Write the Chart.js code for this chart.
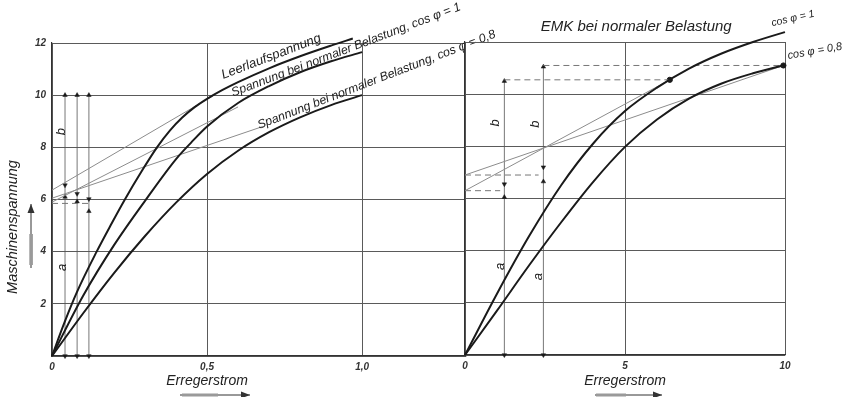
<!DOCTYPE html>
<html>
<head>
<meta charset="utf-8">
<script src="https://cdn.jsdelivr.net/npm/chart.js@4.4.1/dist/chart.umd.min.js"></script>
<style>
  html, body { margin:0; padding:0; background:#fff; }
  #wrap { position:relative; width:846px; height:397px; overflow:hidden; background:#fff; }
  canvas { position:absolute; top:0; }
  #c1 { left:0; }
  #c2 { left:420px; }
</style>
</head>
<body>
<div id="wrap">
  <canvas id="c1" width="500" height="397"></canvas>
  <canvas id="c2" width="426" height="397"></canvas>
</div>
<script>
// ---------- Left diagram: Maschinenspannung vs Erregerstrom ----------
const leftXTicks = [0, 0.5, 1.0];
const leftYTicks = [0, 2, 4, 6, 8, 10, 12];

const leerX = [0, 0.04, 0.08, 0.144, 0.19, 0.235, 0.29, 0.338, 0.38, 0.42, 0.46, 0.5, 0.55, 0.6, 0.7, 0.8, 0.9, 0.97];
const leerY = [0, 1.28, 2.44, 4.0, 5.03, 6.0, 7.1, 7.99, 8.64, 9.14, 9.54, 9.86, 10.2, 10.5, 11.03, 11.49, 11.9, 12.17];

const cos1LX = [0, 0.1, 0.2, 0.3, 0.4, 0.45, 0.5, 0.6, 0.7, 0.8, 0.9, 1.0];
const cos1LY = [0, 2.3, 4.25, 5.95, 7.55, 8.2, 8.8, 9.7, 10.35, 10.88, 11.3, 11.65];

const cos08LX = [0, 0.1, 0.2, 0.3, 0.4, 0.5, 0.6, 0.7, 0.8, 0.9, 1.0];
const cos08LY = [0, 1.63, 3.18, 4.6, 5.88, 6.98, 7.87, 8.58, 9.15, 9.62, 10.0];

const lineAX = [0, 0.52], lineAY = [6.36, 9.98];
const lineBX = [0, 0.6],  lineBY = [5.9, 9.55];
const lineCX = [0, 0.68], lineCY = [6.05, 8.8];
const dashLX = [0, 0.12], dashLY = [5.85, 5.85];

const dimLX = [0.042, 0.081, 0.119];
const dimLY = [[0, 6.1, 6.55, 10], [0, 5.92, 6.22, 10], [0, 5.55, 6.02, 10]];

// ---------- Right diagram: EMK bei normaler Belastung ----------
const rightXTicks = [0, 5, 10];
const cos1RX = [0, 1, 2, 3, 4, 5, 6, 7, 8, 9, 10, 10.4];
const cos1RY = [0, 2.35, 4.55, 6.5, 8.1, 9.35, 10.25, 10.98, 11.55, 12.0, 12.38, 12.52];

const cos08RX = [0, 1, 2, 3, 4, 5, 6, 7, 8, 9, 10, 10.6];
const cos08RY = [0, 1.7, 3.43, 5.08, 6.63, 7.98, 9.03, 9.83, 10.4, 10.8, 11.12, 11.3];

const lineEX = [0, 6.4],  lineEY = [6.3, 10.55];
const lineDX = [0, 9.95], lineDY = [6.9, 11.1];
const dashR1X = [0, 1.1],     dashR1Y = [6.3, 6.3];
const dashR2X = [0, 2.3],     dashR2Y = [6.9, 6.9];
const dashR3X = [1.23, 6.4],  dashR3Y = [10.55, 10.55];
const dashR4X = [2.45, 9.95], dashR4Y = [11.1, 11.1];
const dotRX = [6.4, 9.95], dotRY = [10.55, 11.1];

const dimRX = [1.23, 2.45];
const dimRY = [[0, 6.05, 6.55, 10.5], [0, 6.65, 7.2, 11.05]];

// ---------- helpers ----------
const zip = (xs, ys) => xs.map((x, i) => ({x, y: ys[i]}));
const FONT = '"Liberation Sans", "DejaVu Sans", sans-serif';
const INK = '#1a1a1a';

function curve(xs, ys) {
  return { data: zip(xs, ys), showLine: true, borderColor: INK, borderWidth: 2,
           pointRadius: 0, cubicInterpolationMode: 'monotone', clip: false, fill: false };
}
function thin(xs, ys) {
  return { data: zip(xs, ys), showLine: true, borderColor: '#8c8c8c', borderWidth: 1,
           pointRadius: 0, tension: 0, clip: false };
}
function dashed(xs, ys) {
  return { data: zip(xs, ys), showLine: true, borderColor: '#777', borderWidth: 1,
           borderDash: [6, 4], pointRadius: 0, tension: 0, clip: false };
}
function dim(x, ys) {
  return { data: ys.map(y => ({x, y})), showLine: true, borderColor: '#555', borderWidth: 0.8,
           pointStyle: 'triangle', pointRadius: 2.6, pointRotation: [180, 0, 180, 0],
           pointBackgroundColor: INK, pointBorderColor: INK, pointBorderWidth: 0.5, tension: 0, clip: false };
}

const textPlugin = {
  id: 'texts',
  afterDraw(chart, args, opts) {
    const ctx = chart.ctx, xs = chart.scales.x, ys = chart.scales.y;
    (opts.items || []).forEach(it => {
      ctx.save();
      const px = it.px ? it.x : xs.getPixelForValue(it.x);
      const py = it.px ? it.y : ys.getPixelForValue(it.y);
      ctx.translate(px, py);
      ctx.rotate((it.rot || 0) * Math.PI / 180);
      ctx.font = `italic ${it.weight || 'normal'} ${it.size || 12}px ${FONT}`;
      ctx.fillStyle = it.color || '#222';
      ctx.textAlign = it.align || 'left';
      ctx.textBaseline = it.base || 'alphabetic';
      ctx.fillText(it.text, 0, 0);
      ctx.restore();
    });
    (opts.arrows || []).forEach(a => {
      ctx.save();
      ctx.strokeStyle = '#333'; ctx.fillStyle = '#333'; ctx.lineWidth = 1;
      ctx.beginPath(); ctx.moveTo(a.x1, a.y1); ctx.lineTo(a.x2, a.y2); ctx.stroke();
      const ang = Math.atan2(a.y2 - a.y1, a.x2 - a.x1);
      ctx.translate(a.x2, a.y2); ctx.rotate(ang);
      ctx.beginPath(); ctx.moveTo(0, 0); ctx.lineTo(-9, -3.5); ctx.lineTo(-9, 3.5); ctx.closePath(); ctx.fill();
      ctx.restore();
      if (a.bar) {
        ctx.save(); ctx.fillStyle = '#9a9a9a';
        ctx.fillRect(a.bar[0], a.bar[1], a.bar[2], a.bar[3]);
        ctx.restore();
      }
    });
  }
};

const tickFont = { family: FONT, style: 'italic', size: 10, weight: 'bold' };
const gridCol = '#5a5a5a';

// ---------- Chart 1 ----------
new Chart(document.getElementById('c1'), {
  type: 'scatter',
  data: { datasets: [
    curve(leerX, leerY), curve(cos1LX, cos1LY), curve(cos08LX, cos08LY),
    thin(lineAX, lineAY), thin(lineBX, lineBY), thin(lineCX, lineCY),
    dashed(dashLX, dashLY),
    ...dimLX.map((x, i) => dim(x, dimLY[i]))
  ]},
  options: {
    responsive: false, animation: false, devicePixelRatio: 1,
    layout: { padding: { top: 43, right: 34, bottom: 0, left: 0 } },
    plugins: {
      legend: { display: false }, tooltip: { enabled: false },
      texts: {
        items: [
          { text: 'Leerlaufspannung', x: 0.552, y: 10.62, rot: -21, size: 13.2 },
          { text: 'Spannung bei normaler Belastung, cos φ = 1', x: 0.584, y: 9.95, rot: -20.8, size: 12.3 },
          { text: 'Spannung bei normaler Belastung, cos φ = 0,8', x: 0.668, y: 8.7, rot: -21.2, size: 12.3 },
          { text: 'b', x: 0.03, y: 8.6, rot: -90, size: 13, align: 'center', base: 'middle' },
          { text: 'a', x: 0.033, y: 3.4, rot: -90, size: 13, align: 'center', base: 'middle' },
          { text: 'Maschinenspannung', x: 13, y: 227, px: true, rot: -90, size: 14.5, align: 'center', base: 'middle' },
          { text: 'Erregerstrom', x: 0.5, y: -0.97, rot: 0, size: 14, align: 'center', base: 'middle' }
        ],
        arrows: [
          { x1: 31, y1: 268, x2: 31, y2: 204, bar: [29.3, 234, 3.6, 31] },
          { x1: 180, y1: 395, x2: 250, y2: 395, bar: [182, 393.5, 36, 3] }
        ]
      }
    },
    scales: {
      x: {
        type: 'linear', min: 0, max: 1.335,
        afterBuildTicks: s => { s.ticks = leftXTicks.map(v => ({ value: v })); },
        afterFit: s => { s.height = 41; },
        grid: { color: gridCol, lineWidth: 1, drawTicks: false },
        border: { color: '#333', width: 1.2 },
        ticks: { padding: 5, color: '#333', font: tickFont,
                 callback: v => v === 0 ? '0' : v.toFixed(1).replace('.', ',') }
      },
      y: {
        type: 'linear', min: 0, max: 12,
        afterBuildTicks: s => { s.ticks = leftYTicks.map(v => ({ value: v })); },
        afterFit: s => { s.width = 52; },
        grid: { color: gridCol, lineWidth: 1, drawTicks: false },
        border: { color: '#333', width: 1.2 },
        ticks: { padding: 6, color: '#333', font: tickFont, callback: v => v === 0 ? '' : String(v) }
      }
    }
  },
  plugins: [textPlugin]
});

// ---------- Chart 2 ----------
new Chart(document.getElementById('c2'), {
  type: 'scatter',
  data: { datasets: [
    curve(cos1RX, cos1RY), curve(cos08RX, cos08RY),
    thin(lineEX, lineEY), thin(lineDX, lineDY),
    dashed(dashR1X, dashR1Y), dashed(dashR2X, dashR2Y), dashed(dashR3X, dashR3Y), dashed(dashR4X, dashR4Y),
    { data: zip(dotRX, dotRY), pointRadius: 2.6, pointBackgroundColor: INK, pointBorderColor: INK, showLine: false, clip: false },
    ...dimRX.map((x, i) => dim(x, dimRY[i]))
  ]},
  options: {
    responsive: false, animation: false, devicePixelRatio: 1,
    layout: { padding: { top: 42, right: 61, bottom: 0, left: 0 } },
    plugins: {
      legend: { display: false }, tooltip: { enabled: false },
      texts: {
        items: [
          { text: 'EMK bei normaler Belastung', x: 5.35, y: 12.6, size: 15, align: 'center', base: 'middle' },
          { text: 'cos φ = 1', x: 9.6, y: 12.6, rot: -13, size: 10.5 },
          { text: 'cos φ = 0,8', x: 10.1, y: 11.35, rot: -10, size: 11 },
          { text: 'b', x: 0.95, y: 8.9, rot: -90, size: 13, align: 'center', base: 'middle' },
          { text: 'b', x: 2.2, y: 8.85, rot: -90, size: 13, align: 'center', base: 'middle' },
          { text: 'a', x: 1.1, y: 3.4, rot: -90, size: 13, align: 'center', base: 'middle' },
          { text: 'a', x: 2.3, y: 3.0, rot: -90, size: 13, align: 'center', base: 'middle' },
          { text: 'Erregerstrom', x: 5, y: -1.0, size: 14, align: 'center', base: 'middle' }
        ],
        arrows: [
          { x1: 175, y1: 395, x2: 242, y2: 395, bar: [176, 393.5, 30, 3] }
        ]
      }
    },
    scales: {
      x: {
        type: 'linear', min: 0, max: 10,
        afterBuildTicks: s => { s.ticks = rightXTicks.map(v => ({ value: v })); },
        afterFit: s => { s.height = 42; },
        grid: { color: gridCol, lineWidth: 1, drawTicks: false },
        border: { color: '#333', width: 1.2 },
        ticks: { padding: 5, color: '#333', font: tickFont }
      },
      y: {
        type: 'linear', min: 0, max: 12,
        afterBuildTicks: s => { s.ticks = leftYTicks.map(v => ({ value: v })); },
        afterFit: s => { s.width = 45; },
        grid: { color: gridCol, lineWidth: 1, drawTicks: false },
        border: { color: '#333', width: 1.2 },
        ticks: { display: false }
      }
    }
  },
  plugins: [textPlugin]
});
</script>
</body>
</html>
